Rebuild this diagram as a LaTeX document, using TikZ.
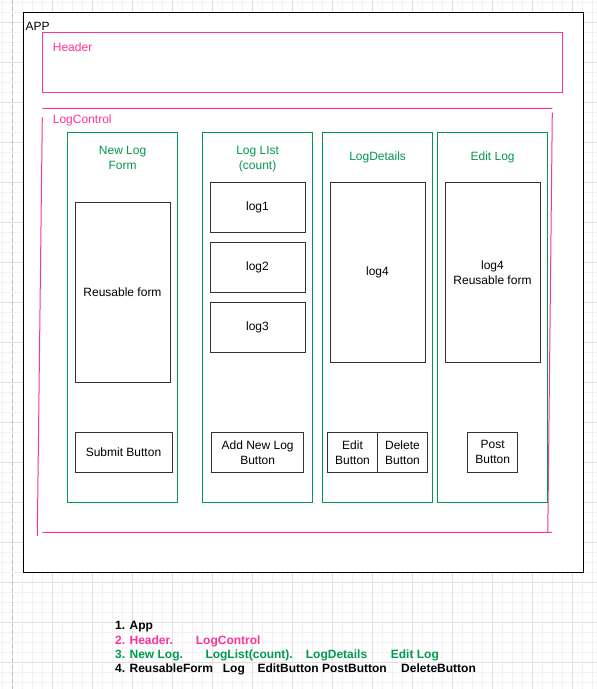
\documentclass[tikz,border=0pt]{standalone}
\usepackage{fontspec}
\setmainfont{Liberation Sans}
\usetikzlibrary{positioning}
\definecolor{drawpink}{HTML}{FF3399}
\definecolor{drawgreen}{HTML}{00994D}
\definecolor{boxgray}{HTML}{333333}
\tikzset{
  every node/.style={font=\fontsize{12}{15}\selectfont, inner sep=0pt, align=center},
  gridminor/.style={draw=black!5, line width=0.8pt},
  gridmajor/.style={draw=black!12, line width=0.8pt},
  appbox/.style={draw=black, fill=white, line width=1pt},
  pinkline/.style={draw=drawpink, line width=1pt},
  column/.style={draw=drawgreen, line width=1pt, minimum width=110pt, minimum height=370pt},
  part/.style={draw=boxgray, line width=1pt, minimum width=95pt},
  btn/.style={draw=boxgray, line width=1pt, minimum height=40pt},
  legend/.style={anchor=base west, font=\fontsize{12}{15}\selectfont\bfseries}
}

\begin{document}
\begin{tikzpicture}[x=1pt,y=-1pt]
        \useasboundingbox (0,0) rectangle (597,689);
        % background grid
        \foreach \g in {2.7,12.7,...,597} \draw[gridminor] (\g,0) -- (\g,689);
        \foreach \g in {2.3,12.3,...,689} \draw[gridminor] (0,\g) -- (597,\g);
        \foreach \g in {12.7,52.7,...,597} \draw[gridmajor] (\g,0) -- (\g,689);
        \foreach \g in {22.3,62.3,...,689} \draw[gridmajor] (0,\g) -- (597,\g);
        \draw[black!25, dash pattern=on 4pt off 3pt] (12.3,0) -- (12.3,689);

        % app and header
        \node[appbox, anchor=north west, minimum width=560pt, minimum height=560pt] (app) at (22.5,12.3) {};
        \node[anchor=base west] (applabel) at (25.3,30.5) {APP};
        \node[pinkline, anchor=north west, minimum width=520pt, minimum height=60pt] (header) at (42.3,32.3) {};
        \node[anchor=base west, text=drawpink] (headerlabel) at (52.7,51) {Header};

        % log control, drawn as four loose lines
        \coordinate (lcTL) at (42.3,108.3);
        \coordinate (lcTR) at (552.3,108.3);
        \coordinate (lcRtop) at (552.3,112.7);
        \coordinate (lcRbot) at (547.8,532.3);
        \coordinate (lcBL) at (42.3,532.3);
        \coordinate (lcBR) at (552.2,532.3);
        \coordinate (lcLtop) at (42.3,117.3);
        \coordinate (lcLbot) at (37.3,536);
        \draw[pinkline] (lcTL) -- (lcTR) (lcRtop) -- (lcRbot) (lcBL) -- (lcBR) (lcLtop) -- (lcLbot);
        \node[anchor=base west, text=drawpink] (lclabel) at (52.7,123) {LogControl};

        % columns
        \node[column] (newlog) at (122.6,317.3) {};
        \node[column] (loglist) at (257.6,317.3) {};
        \node[column] (logdetails) at (377.6,317.3) {};
        \node[column] (editlog) at (492.6,317.3) {};
        \node[text=drawgreen] (newlogtitle) at (122.6,157.5) {New Log\\Form};
        \node[text=drawgreen] (loglisttitle) at (257.6,159.5) {Log LIst\\(count)};
        \node[text=drawgreen] (logdetailstitle) at (377.6,157.5) {LogDetails};
        \node[text=drawgreen] (editlogtitle) at (492.6,157.5) {Edit Log};

        % contents
        \node[part, minimum height=180pt] (form) at (122.5,292.3) {Reusable form};
        \node[btn, minimum width=97pt] (submit) at (123.5,452.3) {Submit Button};
        \node[part, minimum height=50pt] (log1) at (257.5,207.3) {log1};
        \node[part, minimum height=50pt] (log2) at (257.5,267.3) {log2};
        \node[part, minimum height=50pt] (log3) at (257.5,327.3) {log3};
        \node[btn, minimum width=92.6pt] (addnew) at (257.6,452.3) {Add New Log\\Button};
        \node[part, minimum height=180pt] (details) at (377.5,272.3) {log4};
        \node[btn, minimum width=50pt] (editbtn) at (352.5,452.3) {Edit\\Button};
        \node[btn, minimum width=50pt] (deletebtn) at (402.5,452.3) {Delete\\Button};
        \node[part, minimum height=180pt] (editform) at (492.5,272.3) {log4\\Reusable form};
        \node[btn, minimum width=50pt] (post) at (492.7,452.3) {Post\\Button};

        % legend
        \node[legend] (leg1) at (115,629.8) {1. App};
        \node[legend, text=drawpink] (leg2a) at (115,644) {2. Header.};
        \node[legend, text=drawpink] (leg2b) at (195.7,644) {LogControl};
        \node[legend, text=drawgreen] (leg3a) at (115,658.4) {3. New Log.};
        \node[legend, text=drawgreen] (leg3b) at (205.3,658.4) {LogList(count).};
        \node[legend, text=drawgreen] (leg3c) at (305.7,658.4) {LogDetails};
        \node[legend, text=drawgreen] (leg3d) at (390.7,658.4) {Edit Log};
        \node[legend] (leg4a) at (115,672.8) {4. ReusableForm};
        \node[legend] (leg4b) at (222.7,672.8) {Log};
        \node[legend] (leg4c) at (257.3,672.8) {EditButton PostButton};
        \node[legend] (leg4d) at (401,672.8) {DeleteButton};
\end{tikzpicture}
\end{document}
